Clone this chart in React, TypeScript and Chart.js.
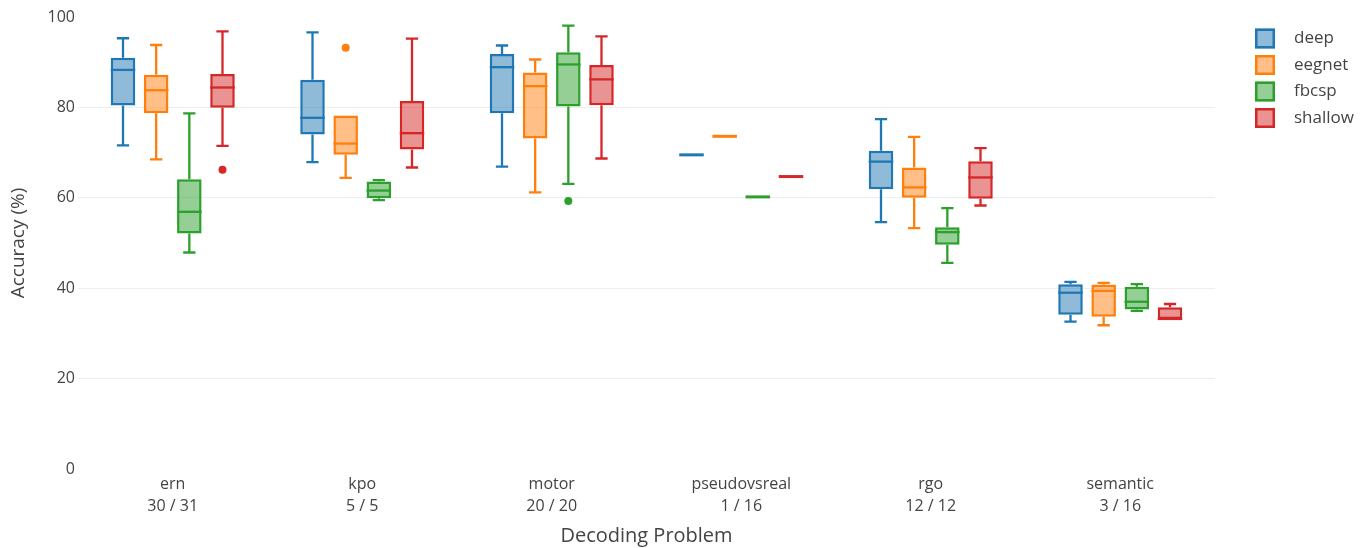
import React, { useEffect, useRef } from "react";
import { Chart, registerables } from "chart.js";

Chart.register(...registerables);

const categories = [
  ["ern", "30 / 31"],
  ["kpo", "5 / 5"],
  ["motor", "20 / 20"],
  ["pseudovsreal", "1 / 16"],
  ["rgo", "12 / 12"],
  ["semantic", "3 / 16"],
];
const seriesNames = ["deep", "eegnet", "fbcsp", "shallow"];
const seriesColors = ["#1f77b4", "#ff7f0e", "#2ca02c", "#d62728"];
const seriesFills = [
  "rgba(31,119,180,0.5)",
  "rgba(255,127,14,0.5)",
  "rgba(44,160,44,0.5)",
  "rgba(214,39,40,0.5)",
];
const yTicks = [0, 20, 40, 60, 80, 100];

// [min, q1, median, q3, max] per category
const deepStats = [
  [71.6, 80.4, 88.3, 91.0, 95.3],
  [67.9, 74.0, 77.7, 86.1, 96.6],
  [66.9, 78.7, 88.9, 91.8, 93.7],
  [69.5, 69.5, 69.5, 69.5, 69.5],
  [54.6, 61.9, 68.0, 70.4, 77.4],
  [32.6, 34.1, 39.0, 40.9, 41.4],
];
const eegnetStats = [
  [68.5, 78.7, 83.8, 87.2, 93.8],
  [64.4, 69.5, 72.0, 78.2, 78.2],
  [61.2, 73.1, 84.7, 87.7, 90.6],
  [73.6, 73.6, 73.6, 73.6, 73.6],
  [53.3, 60.0, 62.3, 66.7, 73.5],
  [31.8, 33.7, 39.4, 40.8, 41.2],
];
const fbcspStats = [
  [47.9, 52.1, 56.9, 64.1, 78.7],
  [59.5, 59.9, 61.6, 63.6, 63.9],
  [63.1, 80.2, 89.5, 92.2, 98.1],
  [60.2, 60.2, 60.2, 60.2, 60.2],
  [45.6, 49.6, 52.4, 53.5, 57.7],
  [35.0, 35.3, 37.0, 40.3, 40.9],
];
const shallowStats = [
  [71.5, 79.9, 84.4, 87.4, 96.8],
  [66.7, 70.7, 74.3, 81.4, 95.2],
  [68.7, 80.5, 86.2, 89.4, 95.7],
  [64.7, 64.7, 64.7, 64.7, 64.7],
  [58.3, 59.8, 64.5, 68.1, 71.0],
  [33.2, 33.2, 33.2, 35.8, 36.5],
];
const deepOutliers = [[], [], [], [], [], []];
const eegnetOutliers = [[], [93.2], [], [], [], []];
const fbcspOutliers = [[], [], [59.3], [], [], []];
const shallowOutliers = [[66.2], [], [], [], [], []];

const allStats = [deepStats, eegnetStats, fbcspStats, shallowStats];
const allOutliers = [deepOutliers, eegnetOutliers, fbcspOutliers, shallowOutliers];

const FONT = "'Open Sans', 'Noto Sans', sans-serif";
const TEXT = "#444444";

const boxPlugin = {
  id: "boxWhiskers",
  afterDatasetsDraw(chart: any) {
    const ctx = chart.ctx;
    const ys = chart.scales.y;
    chart.data.datasets.forEach((_ds: any, di: number) => {
      const meta = chart.getDatasetMeta(di);
      const color = seriesColors[di];
      meta.data.forEach((bar: any, i: number) => {
        const { x, width } = bar.getProps(["x", "width"], true);
        const [mn, q1, md, q3, mx] = allStats[di][i];
        const pMin = ys.getPixelForValue(mn);
        const pQ1 = ys.getPixelForValue(q1);
        const pMd = ys.getPixelForValue(md);
        const pQ3 = ys.getPixelForValue(q3);
        const pMax = ys.getPixelForValue(mx);
        const half = width / 2;
        const cap = width / 4;
        ctx.save();
        ctx.strokeStyle = color;
        ctx.fillStyle = color;
        ctx.lineWidth = 2.3;
        ctx.lineCap = "butt";
        ctx.beginPath();
        if (mx > q3) {
          ctx.moveTo(x, pQ3);
          ctx.lineTo(x, pMax);
          ctx.moveTo(x - cap, pMax);
          ctx.lineTo(x + cap, pMax);
        }
        if (mn < q1) {
          ctx.moveTo(x, pQ1);
          ctx.lineTo(x, pMin);
          ctx.moveTo(x - cap, pMin);
          ctx.lineTo(x + cap, pMin);
        }
        ctx.stroke();
        ctx.beginPath();
        ctx.lineWidth = q1 === q3 ? 3 : 2.3;
        ctx.moveTo(x - half, pMd);
        ctx.lineTo(x + half, pMd);
        ctx.stroke();
        allOutliers[di][i].forEach((v: number) => {
          ctx.beginPath();
          ctx.arc(x, ys.getPixelForValue(v), 4, 0, Math.PI * 2);
          ctx.fill();
        });
        ctx.restore();
      });
    });
  },
};

const legendPlugin = {
  id: "sideLegend",
  afterDraw(chart: any) {
    const ctx = chart.ctx;
    ctx.save();
    chart.data.datasets.forEach((ds: any, di: number) => {
      const cy = 38.5 + di * 26.5;
      ctx.fillStyle = seriesFills[di];
      ctx.fillRect(1255, cy - 10, 20, 20);
      ctx.strokeStyle = seriesColors[di];
      ctx.lineWidth = 2.5;
      ctx.strokeRect(1256.25, cy - 8.75, 17.5, 17.5);
      ctx.fillStyle = TEXT;
      ctx.font = `17px ${FONT}`;
      ctx.textBaseline = "middle";
      ctx.textAlign = "left";
      ctx.fillText(ds.label, 1294, cy);
    });
    ctx.restore();
  },
};

export default function App() {
  const ref = useRef<HTMLCanvasElement | null>(null);
  useEffect(() => {
    document.body.style.margin = "0";
    const canvas = ref.current;
    if (!canvas) return;
    const chart = new Chart(canvas, {
      type: "bar",
      data: {
        labels: categories,
        datasets: seriesNames.map((name, di) => ({
          label: name,
          data: allStats[di].map((s) => [s[1], s[3]]),
          backgroundColor: seriesFills[di],
          borderColor: seriesColors[di],
          borderWidth: 2.5,
          borderSkipped: false,
          categoryPercentage: 0.7,
          barPercentage: 0.74,
        })),
      },
      options: {
        animation: false,
        responsive: false,
        devicePixelRatio: 1,
        layout: { padding: { left: 0, right: 152, top: 17, bottom: 0 } },
        plugins: {
          legend: { display: false },
          tooltip: { enabled: false },
        },
        scales: {
          x: {
            grid: { display: false, drawTicks: false },
            border: { display: false },
            ticks: {
              color: TEXT,
              font: { family: FONT, size: 16, lineHeight: 1.35 },
              padding: 5,
              maxRotation: 0,
            },
            title: {
              display: true,
              text: "Decoding Problem",
              color: TEXT,
              font: { family: FONT, size: 20, lineHeight: 1.2 },
              padding: { top: 0, bottom: 0 },
            },
            afterFit(scale: any) {
              scale.height = 79;
            },
          },
          y: {
            min: 0,
            max: 100,
            afterBuildTicks(scale: any) {
              scale.ticks = yTicks.map((v) => ({ value: v }));
            },
            grid: {
              drawTicks: false,
              color: (c: any) =>
                c.tick && (c.tick.value === 0 || c.tick.value === 100) ? "rgba(0,0,0,0)" : "#eeeeee",
              lineWidth: 1,
            },
            border: { display: false },
            ticks: {
              color: TEXT,
              font: { family: FONT, size: 16 },
              padding: 3,
            },
            title: {
              display: true,
              text: "Accuracy (%)",
              color: TEXT,
              font: { family: FONT, size: 19, lineHeight: 1.2 },
              padding: { top: 7, bottom: 0 },
            },
            afterFit(scale: any) {
              scale.width = 78;
            },
          },
        },
      },
      plugins: [boxPlugin, legendPlugin],
    } as any);
    return () => chart.destroy();
  }, []);
  return <canvas ref={ref} width={1367} height={548} style={{ display: "block" }} />;
}
